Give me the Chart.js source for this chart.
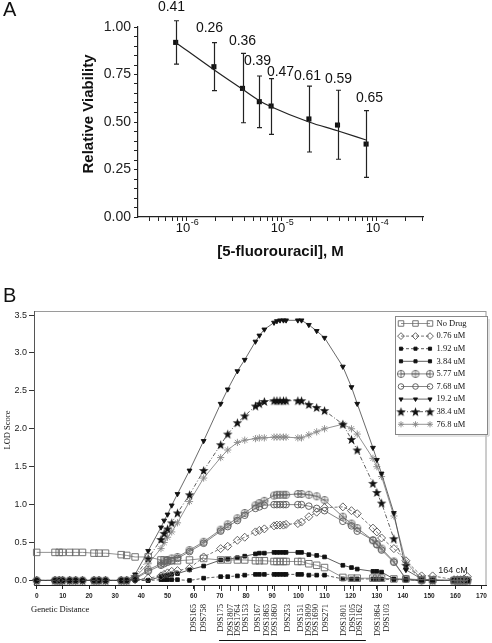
<!DOCTYPE html>
<html lang="en">
<head>
<meta charset="UTF-8">
<title>5-FU viability and LOD score</title>
<script src="https://cdn.jsdelivr.net/npm/chart.js@4"></script>
<style>
  body { margin: 0; background: #fff; }
  #wrap { position: relative; width: 492px; height: 643px; overflow: hidden; }
  #chartA { position: absolute; left: 0; top: 0; }
  #chartB { position: absolute; left: 0; top: 290px; }
  .tag { position: absolute; font: 20px "Liberation Sans", Arial, sans-serif; color: #111; }
</style>
</head>
<body>
<div id="wrap">
  <canvas id="chartA" width="492" height="290"></canvas>
  <canvas id="chartB" width="492" height="353"></canvas>
  <div class="tag" style="left:3px;top:-2px;">A</div>
  <div class="tag" style="left:3px;top:284px;">B</div>
</div>
<script>
// ---- panel A: viability vs 5-FU dose ----
const doses = [0.76e-6, 1.92e-6, 3.84e-6, 5.77e-6, 7.68e-6, 19.2e-6, 38.4e-6, 76.8e-6];
const viability = [0.919, 0.791, 0.677, 0.607, 0.584, 0.516, 0.484, 0.384];
const viabilityHigh = [1.033, 0.918, 0.861, 0.742, 0.728, 0.689, 0.667, 0.56];
const viabilityLow = [0.805, 0.665, 0.496, 0.47, 0.435, 0.342, 0.304, 0.209];
const doseLabels = ['0.41', '0.26', '0.36', '0.39', '0.47', '0.61', '0.59', '0.65'];
const fitDoses = [0.76e-6, 1.92e-6, 3.84e-6, 5.77e-6, 7.68e-6, 19.2e-6, 38.4e-6, 76.8e-6];
const fitViability = [0.919, 0.775, 0.672, 0.612, 0.58, 0.50, 0.454, 0.405];
const yTicksA = [0, 0.25, 0.5, 0.75, 1.0];
const xDecadesA = [1e-6, 1e-5, 1e-4];
const xDecadeExp = ['-6', '-5', '-4'];
// label offsets (px) from the top of each error bar
const labelNudge = [[-5, -14], [-5, -14], [-1, -12], [-2, -15], [9, -7], [-2, -10], [0, -11], [3, -12]];

// ---- panel B: LOD score along chromosome 9 ----
const geneticPos = [0, 7, 8.6, 9.9, 12.6, 14.9, 17.5, 21.9, 23.8, 26.3,
  32.3, 34.4, 37.6, 42.6, 47.5, 48.7, 50, 51.6, 53.8, 58.4,
  63.8, 70.3, 73, 76.7, 79.5, 83.6, 85.1, 87, 90.7, 91.8,
  93, 94.3, 95.3, 99.8, 101.2, 104, 107, 110, 117, 120.3,
  122.5, 128.5, 130, 131.8, 136.5, 141.1, 147.1, 151.3, 159.5, 160.8,
  162, 163.3, 164.6];
const zeros12 = [0, 0, 0, 0, 0, 0, 0, 0, 0, 0, 0, 0];
const lodNoDrug = [0.37, 0.37, 0.37, 0.37, 0.37, 0.37, 0.37, 0.36, 0.36, 0.36,
  0.34, 0.33, 0.31, 0.31, 0.27, 0.27, 0.26, 0.26, 0.26, 0.27,
  0.29, 0.27, 0.27, 0.27, 0.27, 0.26, 0.26, 0.26, 0.25, 0.25,
  0.25, 0.25, 0.25, 0.25, 0.25, 0.22, 0.2, 0.17, 0.04, 0.03,
  0.03, 0.03, 0.03, 0.03, 0.02, 0.02, 0.01, 0.01, 0, 0,
  0, 0, 0];
const lod076 = zeros12.concat([0.01, 0.03, 0.06, 0.08, 0.1, 0.12, 0.13, 0.16,
  0.31, 0.42, 0.45, 0.53, 0.57, 0.64, 0.66, 0.68, 0.72, 0.73,
  0.73, 0.73, 0.74, 0.75, 0.77, 0.84, 0.9, 0.96, 0.97, 0.92,
  0.88, 0.69, 0.64, 0.56, 0.42, 0.26, 0.06, 0.06, 0.01, 0.01,
  0.01, 0.02, 0.05]);
const lod192 = zeros12.concat([0, 0, 0.01, 0.01, 0.01, 0.01, 0.01, 0,
  0.03, 0.05, 0.05, 0.06, 0.07, 0.08, 0.08, 0.08, 0.08, 0.08,
  0.08, 0.08, 0.08, 0.08, 0.08, 0.07, 0.07, 0.07, 0.02, 0.02,
  0.02, 0.02, 0.02, 0.02, 0.01, 0.01, 0, 0, 0, 0,
  0, 0, 0]);
const lod384 = zeros12.concat([0.02, 0, 0.05, 0.06, 0.07, 0.08, 0.09, 0.14,
  0.19, 0.27, 0.28, 0.3, 0.32, 0.35, 0.36, 0.36, 0.37, 0.37,
  0.37, 0.37, 0.37, 0.37, 0.37, 0.34, 0.33, 0.31, 0.2, 0.17,
  0.15, 0.12, 0.12, 0.11, 0.02, 0.01, 0, 0, 0, 0,
  0, 0, 0]);
const lod577 = zeros12.concat([0.03, 0.14, 0.22, 0.25, 0.27, 0.29, 0.31, 0.4,
  0.51, 0.67, 0.74, 0.82, 0.89, 0.99, 1.02, 1.05, 1.12, 1.13,
  1.13, 1.13, 1.13, 1.14, 1.14, 1.13, 1.11, 1.06, 0.84, 0.75,
  0.69, 0.53, 0.48, 0.42, 0.25, 0.02, 0, 0, 0, 0,
  0, 0, 0]);
const lod768 = zeros12.concat([0.02, 0.12, 0.2, 0.22, 0.24, 0.26, 0.29, 0.38,
  0.49, 0.65, 0.71, 0.79, 0.86, 0.95, 0.97, 0.99, 1.0, 1.0,
  1.0, 1.0, 1.0, 1.0, 1.0, 0.98, 0.95, 0.92, 0.78, 0.72,
  0.65, 0.53, 0.47, 0.4, 0.24, 0.02, 0, 0, 0, 0,
  0, 0, 0]);
const lod19 = zeros12.concat([0.08, 0.39, 0.7, 0.79, 0.87, 0.99, 1.14, 1.45,
  1.84, 2.33, 2.52, 2.76, 2.91, 3.15, 3.23, 3.31, 3.40, 3.42,
  3.43, 3.43, 3.43, 3.43, 3.43, 3.37, 3.29, 3.2, 2.82, 2.55,
  2.33, 1.75, 1.59, 1.41, 0.89, 0.14, 0.02, 0, 0, 0,
  0, 0, 0]);
const lod38 = zeros12.concat([0.05, 0.29, 0.54, 0.62, 0.68, 0.76, 0.89, 1.13,
  1.45, 1.79, 1.93, 2.08, 2.17, 2.30, 2.33, 2.36, 2.37, 2.37,
  2.37, 2.37, 2.37, 2.37, 2.37, 2.32, 2.28, 2.24, 2.06, 1.86,
  1.72, 1.28, 1.16, 1.02, 0.55, 0.2, 0.02, 0, 0, 0,
  0, 0, 0]);
const lod77 = zeros12.concat([0.04, 0.22, 0.42, 0.5, 0.57, 0.64, 0.76, 1.04,
  1.35, 1.62, 1.72, 1.82, 1.85, 1.87, 1.88, 1.88, 1.89, 1.89,
  1.89, 1.89, 1.89, 1.88, 1.88, 1.92, 1.96, 2.0, 2.06, 2.0,
  1.93, 1.61, 1.5, 1.37, 0.85, 0.24, 0.02, 0, 0, 0,
  0, 0, 0]);
const yTicksB = [0, 0.5, 1, 1.5, 2, 2.5, 3, 3.5];
const xTicksB = [0, 10, 20, 30, 40, 50, 60, 70, 80, 90, 100, 110, 120, 130, 140, 150, 160, 170];
const markerNames = ['D9S165', 'D9S758', 'D9S175', 'D9S1807', 'D9S1764', 'D9S153', 'D9S167', 'D9S1865',
  'D9S1860', 'D9S253', 'D9S151', 'D9S1809', 'D9S1690', 'D9S271', 'D9S1801', 'D9S105', 'D9S1162',
  'D9S1864', 'D9S103'];
const markerPos = [60, 64, 70.5, 74, 77, 80, 84.5, 88, 90.8, 96, 100.8, 103.8, 106.6, 110.4,
  117.3, 120.7, 123.6, 130.2, 133.7];
const bracketRange = [69.7, 125.8];

const SANS = '"Liberation Sans", Arial, sans-serif';
const SERIF = '"Liberation Serif", "Times New Roman", serif';
Chart.defaults.font.family = SANS;

// custom marker shapes
function makeStar() {
  const c = document.createElement('canvas');
  c.width = 11; c.height = 11;
  const g = c.getContext('2d');
  g.beginPath();
  for (let i = 0; i < 10; i++) {
    const r = i % 2 ? 2.0 : 5.0;
    const a = -Math.PI / 2 + i * Math.PI / 5;
    g.lineTo(5.5 + r * Math.cos(a), 5.9 + r * Math.sin(a));
  }
  g.closePath();
  g.fillStyle = '#111';
  g.fill();
  return c;
}
function makeCrossCircle() {
  const c = document.createElement('canvas');
  c.width = 10; c.height = 10;
  const g = c.getContext('2d');
  g.strokeStyle = '#666';
  g.lineWidth = 0.9;
  g.beginPath();
  g.arc(5, 5, 3.6, 0, Math.PI * 2);
  g.moveTo(1, 5); g.lineTo(9, 5);
  g.moveTo(5, 1); g.lineTo(5, 9);
  g.stroke();
  return c;
}
const starImg = makeStar();
const crossCircleImg = makeCrossCircle();

// ---------- chart A ----------
const errorBars = {
  id: 'errorBars',
  afterDatasetsDraw(chart) {
    const { ctx, scales: { x, y } } = chart;
    ctx.save();
    ctx.strokeStyle = '#222';
    ctx.lineWidth = 1.2;
    ctx.fillStyle = '#111';
    ctx.font = '14px ' + SANS;
    ctx.textAlign = 'center';
    ctx.textBaseline = 'middle';
    doses.forEach((d, i) => {
      const px = Math.round(x.getPixelForValue(d)) + 0.5;
      const top = y.getPixelForValue(viabilityHigh[i]);
      const bot = y.getPixelForValue(viabilityLow[i]);
      ctx.beginPath();
      ctx.moveTo(px, top); ctx.lineTo(px, bot);
      ctx.moveTo(px - 2.5, top); ctx.lineTo(px + 2.5, top);
      ctx.moveTo(px - 2.5, bot); ctx.lineTo(px + 2.5, bot);
      ctx.stroke();
      ctx.fillText(doseLabels[i], px + labelNudge[i][0], top + labelNudge[i][1]);
    });
    ctx.restore();
  }
};
const titlesA = {
  id: 'titlesA',
  afterDraw(chart) {
    const { ctx, chartArea, scales: { x } } = chart;
    ctx.save();
    ctx.fillStyle = '#111';
    // decade labels with raised exponent
    ctx.textBaseline = 'middle';
    ctx.textAlign = 'left';
    xDecadesA.forEach((d, i) => {
      ctx.font = '13px ' + SANS;
      const wBase = ctx.measureText('10').width;
      ctx.font = '9px ' + SANS;
      const wExp = ctx.measureText(xDecadeExp[i]).width;
      const left = x.getPixelForValue(d) - (wBase + wExp) / 2;
      ctx.font = '13px ' + SANS;
      ctx.fillText('10', left, 228);
      ctx.font = '9px ' + SANS;
      ctx.fillText(xDecadeExp[i], left + wBase + 0.5, 222.5);
    });
    ctx.font = 'bold 15px ' + SANS;
    ctx.textAlign = 'center';
    ctx.fillText('[5-fluorouracil], M', (chartArea.left + chartArea.right) / 2, 252);
    ctx.translate(89, 114);
    ctx.rotate(-Math.PI / 2);
    ctx.fillText('Relative Viability', 0, 0);
    ctx.restore();
  }
};

new Chart(document.getElementById('chartA'), {
  type: 'scatter',
  data: {
    datasets: [
      {
        type: 'line',
        data: fitDoses.map((d, i) => ({ x: d, y: fitViability[i] })),
        borderColor: '#222',
        borderWidth: 1.2,
        pointRadius: 0,
        cubicInterpolationMode: 'monotone',
        fill: false
      },
      {
        data: doses.map((d, i) => ({ x: d, y: viability[i] })),
        pointStyle: 'rect',
        pointRadius: 3.6,
        backgroundColor: '#111',
        borderColor: '#111',
        borderWidth: 0
      }
    ]
  },
  options: {
    responsive: false,
    animation: false,
    layout: { padding: { left: 0, right: 69, top: 27, bottom: 0 } },
    plugins: { legend: { display: false }, tooltip: { enabled: false } },
    scales: {
      x: {
        type: 'logarithmic',
        min: 3.05e-7,
        max: 3.05e-4,
        afterFit(s) { s.height = 73; },
        afterBuildTicks(s) {
          const t = [];
          for (let e = -7; e <= -4; e++) {
            for (let k = 1; k <= 9; k++) {
              const v = k * Math.pow(10, e);
              if (v >= s.min && v <= s.max) t.push({ value: v });
            }
          }
          s.ticks = t;
        },
        grid: { drawOnChartArea: false, tickLength: 4, color: '#222', lineWidth: 1 },
        border: { color: '#222', width: 1.2 },
        ticks: {
          autoSkip: false,
          maxRotation: 0,
          padding: 2,
          color: '#222',
          font: { size: 12 },
          callback: () => ''
        }
      },
      y: {
        min: 0,
        max: 1,
        afterFit(s) { s.width = 138; },
        afterBuildTicks(s) {
          const t = [];
          for (let k = 0; k <= 20; k++) t.push({ value: k * 0.05 });
          s.ticks = t;
        },
        grid: { drawOnChartArea: false, tickLength: 4, color: '#222', lineWidth: 1 },
        border: { color: '#222', width: 1.2 },
        ticks: {
          autoSkip: false,
          padding: 3,
          color: '#222',
          font: { size: 14 },
          callback(v) {
            const i = yTicksA.findIndex(t => Math.abs(t - v) < 1e-6);
            return i >= 0 ? yTicksA[i].toFixed(2) : '';
          }
        }
      }
    }
  },
  plugins: [errorBars, titlesA]
});

// ---------- chart B ----------
function series(label, values, style) {
  return Object.assign({
    label: label,
    data: geneticPos.map((x, i) => ({ x: x, y: values[i] })),
    showLine: true,
    borderColor: '#555',
    borderWidth: 0.8,
    pointBorderWidth: 0.9,
    pointBackgroundColor: 'rgba(0,0,0,0)',
    pointBorderColor: '#555',
    pointRotation: 0,
    tension: 0,
    clip: false
  }, style);
}

const datasetsB = [
  series('No Drug', lodNoDrug, { pointStyle: 'rect', pointRadius: 4.6, borderColor: '#777', pointBorderColor: '#666' }),
  series('0.76 uM', lod076, { pointStyle: 'rectRot', pointRadius: 4, borderDash: [3, 2], pointBorderColor: '#555' }),
  series('1.92 uM', lod192, { pointStyle: 'rect', pointRadius: 2.6, borderDash: [3, 2], pointBackgroundColor: '#111', pointBorderColor: '#111', borderColor: '#333' }),
  series('3.84 uM', lod384, { pointStyle: 'rect', pointRadius: 2.6, pointBackgroundColor: '#111', pointBorderColor: '#111', borderColor: '#333' }),
  series('5.77 uM', lod577, { pointStyle: crossCircleImg, pointRadius: 4, borderColor: '#666' }),
  series('7.68 uM', lod768, { pointStyle: 'circle', pointRadius: 3.3, borderColor: '#666', pointBorderColor: '#555' }),
  series('19.2 uM', lod19, { pointStyle: 'triangle', pointRotation: 180, pointRadius: 2.8, pointBackgroundColor: '#111', pointBorderColor: '#111', borderColor: '#444' }),
  series('38.4 uM', lod38, { pointStyle: starImg, pointRadius: 4.5, borderDash: [4, 2, 1, 2], borderColor: '#333' }),
  series('76.8 uM', lod77, { pointStyle: 'star', pointRadius: 3.6, pointBorderColor: '#888', borderColor: '#777' })
];

const frameB = {
  id: 'frameB',
  beforeDraw(chart) {
    const { ctx, chartArea: a } = chart;
    ctx.save();
    ctx.strokeStyle = '#9a9a9a';
    ctx.lineWidth = 1;
    ctx.strokeRect(a.left + 0.5, a.top + 0.5, a.right - a.left - 1, a.bottom - a.top);
    ctx.restore();
  }
};

const annotB = {
  id: 'annotB',
  afterDraw(chart) {
    const { ctx, chartArea: a, scales: { x, y } } = chart;
    ctx.save();
    // marker ticks under the axis
    ctx.strokeStyle = '#111';
    ctx.lineWidth = 0.8;
    ctx.beginPath();
    markerPos.forEach(p => {
      const px = Math.round(x.getPixelForValue(p)) + 0.5;
      ctx.moveTo(px, a.bottom);
      ctx.lineTo(px, a.bottom + 6);
    });
    ctx.stroke();
    // marker names, rotated
    ctx.fillStyle = '#111';
    ctx.font = '8.5px ' + SERIF;
    ctx.textBaseline = 'middle';
    markerNames.forEach((n, i) => {
      ctx.save();
      ctx.translate(x.getPixelForValue(markerPos[i]), 314);
      ctx.rotate(-Math.PI / 2);
      ctx.textAlign = 'right';
      ctx.fillText(n, 0, 0);
      ctx.restore();
    });
    // bracket line under the names
    ctx.strokeStyle = '#111';
    ctx.lineWidth = 1;
    ctx.beginPath();
    ctx.moveTo(x.getPixelForValue(bracketRange[0]), 350.5);
    ctx.lineTo(x.getPixelForValue(bracketRange[1]), 350.5);
    ctx.stroke();
    // axis titles
    ctx.font = '8.5px ' + SERIF;
    ctx.textAlign = 'left';
    ctx.fillText('Genetic Distance', 31, 320);
    ctx.save();
    ctx.translate(8, 140);
    ctx.rotate(-Math.PI / 2);
    ctx.textAlign = 'center';
    ctx.fillText('LOD Score', 0, 0);
    ctx.restore();
    // 164 cM note
    ctx.font = '9px ' + SANS;
    ctx.textAlign = 'right';
    ctx.fillStyle = '#222';
    ctx.fillText('164 cM', x.getPixelForValue(164.7), y.getPixelForValue(0.125));
    ctx.restore();
  }
};

const legendB = {
  id: 'legendB',
  afterDraw(chart) {
    const ctx = chart.ctx;
    const bx = 395, by = 26, bw = 92, bh = 118;
    ctx.save();
    ctx.fillStyle = '#fff';
    ctx.fillRect(bx, by, bw, bh);
    ctx.strokeStyle = '#888';
    ctx.lineWidth = 1;
    ctx.strokeRect(bx + 0.5, by + 0.5, bw, bh);
    ctx.strokeStyle = '#c8c8c8';
    ctx.beginPath();
    ctx.moveTo(bx + bw + 2, by + 3); ctx.lineTo(bx + bw + 2, by + bh + 2); ctx.lineTo(bx + 3, by + bh + 2);
    ctx.stroke();
    chart.data.datasets.forEach((ds, i) => {
      const yy = by + 7.5 + i * 12.6;
      ctx.strokeStyle = ds.borderColor;
      ctx.lineWidth = ds.borderWidth;
      ctx.setLineDash(ds.borderDash || []);
      ctx.beginPath();
      ctx.moveTo(401, yy); ctx.lineTo(430, yy);
      ctx.stroke();
      ctx.setLineDash([]);
      [401, 415.5, 430].forEach(px => {
        ctx.fillStyle = ds.pointBackgroundColor;
        ctx.strokeStyle = ds.pointBorderColor;
        ctx.lineWidth = ds.pointBorderWidth;
        Chart.helpers.drawPoint(ctx, {
          pointStyle: ds.pointStyle,
          radius: ds.pointRadius * 0.85,
          rotation: ds.pointRotation || 0,
          borderWidth: ds.pointBorderWidth
        }, px, yy);
      });
      ctx.fillStyle = '#111';
      ctx.font = '8.5px ' + SERIF;
      ctx.textAlign = 'left';
      ctx.textBaseline = 'middle';
      ctx.fillText(ds.label, 436.5, yy);
    });
    ctx.restore();
  }
};

new Chart(document.getElementById('chartB'), {
  type: 'scatter',
  data: { datasets: datasetsB },
  options: {
    responsive: false,
    animation: false,
    layout: { padding: { left: 0, right: 3, top: 21, bottom: 0 } },
    plugins: { legend: { display: false }, tooltip: { enabled: false } },
    scales: {
      x: {
        type: 'linear',
        min: -1.03,
        max: 171.9,
        afterFit(s) { s.height = 58; },
        afterBuildTicks(s) { s.ticks = xTicksB.map(v => ({ value: v })); },
        grid: { drawOnChartArea: false, tickLength: 4, color: '#222' },
        border: { color: '#222', width: 1 },
        ticks: {
          autoSkip: false,
          maxRotation: 0,
          padding: 3,
          color: '#222',
          font: { size: 6.5, weight: 'bold' },
          callback: v => String(v)
        }
      },
      y: {
        min: -0.06,
        max: 3.553,
        afterFit(s) { s.width = 34; },
        afterBuildTicks(s) { s.ticks = yTicksB.map(v => ({ value: v })); },
        grid: { drawOnChartArea: false, tickLength: 5, color: '#333' },
        border: { color: '#555', width: 1 },
        ticks: {
          autoSkip: false,
          padding: 2,
          color: '#222',
          font: { size: 9 },
          callback: v => v.toFixed(1)
        }
      }
    }
  },
  plugins: [frameB, annotB, legendB]
});
</script>
</body>
</html>
